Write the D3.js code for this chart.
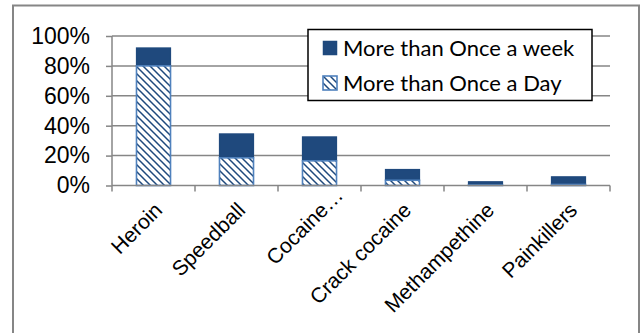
<!DOCTYPE html>
<html>
<head>
<meta charset="utf-8">
<script src="https://cdn.jsdelivr.net/npm/d3@7/dist/d3.min.js"></script>
<style>
  html, body { margin: 0; padding: 0; background: #fff; }
  svg { display: block; }
</style>
</head>
<body>
<svg id="chart" width="640" height="333"></svg>
<script>
// Share of users by substance and frequency of use
const categories = ["Heroin", "Speedball", "Cocaine…", "Crack cocaine", "Methampethine", "Painkillers"];
const onceADay = [0.80, 0.185, 0.165, 0.035, 0.003, 0.007];
const onceAWeek = [0.92, 0.345, 0.325, 0.107, 0.025, 0.058]; // stacked totals (day + week)
const seriesNames = ["More than Once a week", "More than Once a Day"];
const yTicks = [0, 0.2, 0.4, 0.6, 0.8, 1.0];

const navy = "#1F497D";
const lightBlue = "#4F81BD";
const gridGray = "#868686";
const axisFont = "'Liberation Sans', Arial, sans-serif";

const svg = d3.select("#chart");
const plot = { left: 112, right: 610, top: 36, bottom: 185.5 };

// outer chart frame
svg.append("rect")
  .attr("x", 13).attr("y", 5.5)
  .attr("width", 626).attr("height", 340)
  .attr("fill", "#fff").attr("stroke", gridGray).attr("stroke-width", 2);

// diagonal hatch for the daily series
const defs = svg.append("defs");
const pat = defs.append("pattern")
  .attr("id", "hatch").attr("patternUnits", "userSpaceOnUse")
  .attr("width", 7).attr("height", 7);
pat.append("rect").attr("width", 7).attr("height", 7).attr("fill", "#fff");
pat.append("path")
  .attr("d", "M0,0L7,7M-1,6L1,8M6,-1L8,1")
  .attr("stroke", navy).attr("stroke-width", 1.5);

const x = d3.scaleBand()
  .domain(categories)
  .range([plot.left, plot.right])
  .paddingInner(0.59)
  .paddingOuter(0.295);

const y = d3.scaleLinear().domain([0, 1]).range([plot.bottom, plot.top]);

// horizontal gridlines
svg.append("g")
  .selectAll("line")
  .data(yTicks.filter(d => d > 0))
  .join("line")
  .attr("x1", plot.left).attr("x2", plot.right)
  .attr("y1", d => y(d)).attr("y2", d => y(d))
  .attr("stroke", gridGray).attr("stroke-width", 1.5);

// y axis
const yAxis = svg.append("g")
  .attr("transform", `translate(${plot.left},0)`)
  .call(d3.axisLeft(y).tickValues(yTicks).tickFormat(d3.format(".0%")).tickSize(6).tickPadding(16));
yAxis.selectAll("path, line").attr("stroke", gridGray).attr("stroke-width", 1.5);
yAxis.select(".domain").attr("d", `M0,${plot.top}V${plot.bottom}`);
yAxis.selectAll("text")
  .style("font-family", axisFont)
  .style("font-size", "23px").attr("fill", "#000");

// bars: daily share (hatched) with weekly remainder stacked on top
const bars = svg.append("g");
bars.selectAll("rect.week")
  .data(categories)
  .join("rect")
  .attr("class", "week")
  .attr("x", d => x(d))
  .attr("width", x.bandwidth())
  .attr("y", (d, i) => y(onceAWeek[i]))
  .attr("height", (d, i) => y(onceADay[i]) - y(onceAWeek[i]))
  .attr("fill", navy).attr("stroke", navy).attr("stroke-width", 1.2);
bars.selectAll("rect.day")
  .data(categories)
  .join("rect")
  .attr("class", "day")
  .attr("x", d => x(d))
  .attr("width", x.bandwidth())
  .attr("y", (d, i) => y(onceADay[i]))
  .attr("height", (d, i) => y(0) - y(onceADay[i]))
  .attr("fill", "url(#hatch)").attr("stroke", lightBlue).attr("stroke-width", 1.6);

// x axis with ticks between categories
const step = x.step();
const xTickPos = d3.range(categories.length + 1).map(i => plot.left + i * step);
const xAxis = svg.append("g");
xAxis.append("line")
  .attr("x1", plot.left).attr("x2", plot.right)
  .attr("y1", plot.bottom).attr("y2", plot.bottom)
  .attr("stroke", gridGray).attr("stroke-width", 1.5);
xAxis.selectAll("line.tick")
  .data(xTickPos)
  .join("line")
  .attr("class", "tick")
  .attr("x1", d => d).attr("x2", d => d)
  .attr("y1", plot.bottom).attr("y2", plot.bottom + 6)
  .attr("stroke", gridGray).attr("stroke-width", 1.5);

// rotated category labels
const labels = svg.append("g")
  .style("font-family", axisFont)
  .style("font-size", "21px").attr("fill", "#000");
labels.selectAll("g")
  .data(categories)
  .join("g")
  .attr("transform", d => `translate(${x(d) + x.bandwidth() / 2 + 10},${plot.bottom + 26}) rotate(-45)`)
  .each(function (d) {
    const g = d3.select(this);
    const trimmed = d.endsWith("…");
    g.append("text").attr("text-anchor", "end").text(trimmed ? d.slice(0, -1) : d);
    if (trimmed) g.append("text").attr("text-anchor", "start").text("…");
  });

// legend
const legend = svg.append("g");
legend.append("rect")
  .attr("x", 308).attr("y", 29.5).attr("width", 284).attr("height", 71)
  .attr("fill", "#fff").attr("stroke", "#000").attr("stroke-width", 1.5);
const items = legend.selectAll("g.item")
  .data(seriesNames)
  .join("g")
  .attr("class", "item")
  .attr("transform", (d, i) => `translate(323,${41 + i * 35})`);
items.append("rect")
  .attr("width", 14).attr("height", 14)
  .attr("fill", (d, i) => i === 0 ? navy : "url(#hatch)")
  .attr("stroke", (d, i) => i === 0 ? navy : lightBlue)
  .attr("stroke-width", (d, i) => i === 0 ? 0.5 : 1.6);
items.append("text")
  .attr("x", 20).attr("y", 14.5)
  .style("font-family", "Lato, Carlito, Calibri, sans-serif")
  .style("font-size", "22px").attr("fill", "#000")
  .text(d => d);
</script>
</body>
</html>
